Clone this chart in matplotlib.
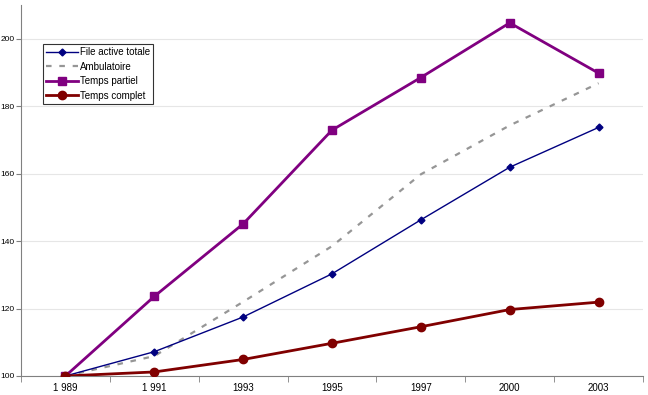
import matplotlib
matplotlib.use("Agg")
import matplotlib.pyplot as plt
import numpy as np

categories = ["1 989", "1 991", "1993", "1995", "1997", "2000", "2003"]
file_active = [100, 107.2, 117.5, 130.3, 146.3, 161.9, 173.7]
ambulatoire = [100, 105.9, 122.0, 138.5, 159.8, 174.3, 186.8]
temps_partiel = [100, 123.6, 145.1, 172.9, 188.5, 204.7, 189.8]
temps_complet = [100, 101.2, 104.9, 109.7, 114.6, 119.7, 121.9]
yticks = [100, 120, 140, 160, 180, 200]

plt.rcParams['font.family'] = ['Liberation Sans', 'DejaVu Sans']
fig = plt.figure(figsize=(6.48, 3.95), dpi=100)
ax = fig.add_axes([21/648, 1-376/395, 622/648, 371/395])
x = np.arange(len(categories))

ax.plot(x, file_active, color="#000080", lw=1.0, marker="D", ms=3.5, label="File active totale", zorder=4)
ax.plot(x, ambulatoire, color="#969696", lw=1.6, ls=(0, (2.5, 3.5)), label="Ambulatoire", zorder=3)
ax.plot(x, temps_partiel, color="#800080", lw=2.0, marker="s", ms=5.5, label="Temps partiel", zorder=5)
ax.plot(x, temps_complet, color="#800000", lw=2.0, marker="o", ms=6, label="Temps complet", zorder=5)

ax.set_xlim(-0.5, len(categories) - 0.5)
ax.set_ylim(100, 210)
ax.set_yticks(yticks)
ax.set_yticklabels([str(v) for v in yticks], fontsize=6)
ax.set_xticks(x)
ax.set_xticklabels(categories, fontsize=7)
ax.set_xticks(np.arange(-0.5, len(categories)), minor=True)
ax.tick_params(axis="x", which="major", length=0, pad=5)
ax.tick_params(axis="x", which="minor", length=4, direction="out", color="#808080")
ax.tick_params(axis="y", length=3.5, direction="out", color="#808080", pad=1)
ax.grid(axis="y", color="#e6e6e6", lw=0.8)
ax.set_axisbelow(True)
for s in ["top", "right"]:
    ax.spines[s].set_visible(False)
for s in ["left", "bottom"]:
    ax.spines[s].set_color("#808080")

leg = ax.legend(loc="upper left", bbox_to_anchor=(22/622, 1-39/371), fontsize=7,
                frameon=True, fancybox=False, edgecolor="black", borderpad=0.35,
                labelspacing=0.45, handlelength=3.2, handletextpad=0.25, borderaxespad=0)
leg.get_frame().set_linewidth(0.8)

fig.savefig("out.png", dpi=100)
